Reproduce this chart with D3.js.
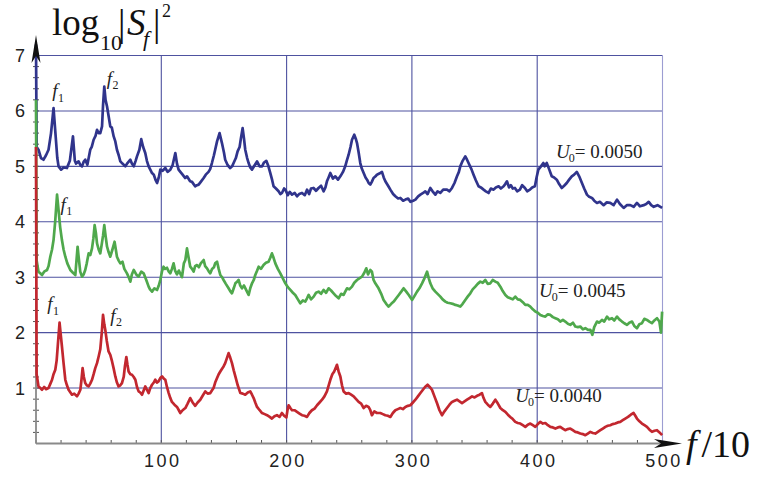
<!DOCTYPE html>
<html>
<head>
<meta charset="utf-8">
<script src="https://cdn.jsdelivr.net/npm/d3@7"></script>
<style>
  body { margin: 0; background: #fff; }
  svg { display: block; }
</style>
</head>
<body>
<div id="main"></div>
<script>
// log10|S_f|^2 against f/10, three runs
var xTicks = [100, 200, 300, 400, 500];
var yTicks = [1, 2, 3, 4, 5, 6, 7];

var blueU = [[0,7.2],[0.5,5.35],[2,5.3],[4,5.15],[6,5.12],[8,5.2],[10,5.3],[12,5.6],[14,6.05],[15.5,5.6],[17,5.15],[18,5.0],[20,4.94],[22,4.98],[24.7,4.97],[27,5.1],[29.5,5.54],[31,5.1],[32,5.05],[34,5.09],[35.5,5.02],[36.7,5.0],[38,5.08],[39.3,5.12],[41,5.03],[43.3,5.3],[44.5,5.35],[46,5.48],[47.5,5.55],[48.7,5.66],[50,5.6],[51.3,5.6],[52.7,5.72],[53.5,6.1],[54.5,6.44],[55.5,6.2],[56.7,6.08],[58,5.9],[59.3,5.72],[60.5,5.7],[62,5.54],[63.3,5.45],[64.6,5.3],[66,5.2],[67.3,5.09],[69,5.05],[71.3,5.0],[73,5.06],[75.3,5.12],[76.5,5.05],[78,5.0],[79.5,5.1],[80.6,5.18],[82.5,5.3],[84,5.49],[85.5,5.35],[87.2,5.24],[88.5,5.1],[89.9,5.0],[91,4.95],[92.6,4.88],[94,4.85],[95.5,4.75],[96.6,4.7],[98,4.8],[99.2,4.94],[101,4.92],[103.2,4.97],[105,4.9],[107.2,4.94],[109,5.02],[111.2,5.24],[112.5,5.05],[113.8,4.94],[115.2,4.9],[117,4.85],[119,4.79],[120.5,4.82],[123,4.73],[124.5,4.72],[127,4.64],[128.5,4.66],[129.8,4.67],[131.5,4.72],[133.8,4.79],[135.5,4.85],[137.7,4.9],[139,4.95],[140.4,5.06],[142,5.2],[143,5.3],[144.5,5.45],[146.5,5.6],[148.4,5.42],[150,5.25],[151,5.12],[153,5.02],[155,4.97],[156.5,5.0],[157.7,5.06],[159.5,5.15],[160.9,5.27],[162.5,5.35],[163.5,5.5],[164.9,5.69],[166,5.5],[167,5.3],[168.5,5.15],[169.7,5.06],[171,4.98],[172.4,4.94],[174.5,5.02],[176.4,5.09],[178.5,5.0],[180.4,5.0],[182,5.07],[183.8,5.1],[185.5,5.0],[187,4.88],[188.5,4.75],[189.6,4.64],[191.5,4.6],[193.6,4.55],[195,4.5],[196.3,4.52],[198,4.6],[199,4.58],[201,4.48],[202.5,4.54],[204.3,4.49],[206.5,4.52],[208.3,4.46],[210,4.5],[212.3,4.52],[214.5,4.48],[216.3,4.58],[218,4.5],[219.5,4.6],[221.5,4.61],[223.5,4.56],[225.5,4.61],[227.5,4.65],[229.5,4.55],[231,4.62],[232.2,4.73],[233.5,4.8],[234.9,4.88],[237,4.78],[238.9,4.82],[241,4.76],[242.9,4.82],[245,4.9],[246.8,5.0],[248,5.1],[249.5,5.21],[251,5.35],[252.2,5.48],[254,5.57],[255.2,5.5],[256.2,5.42],[257.5,5.25],[258.8,5.06],[260,4.96],[261.5,4.88],[263,4.8],[264.2,4.76],[265.5,4.7],[266.8,4.67],[268,4.72],[269.4,4.79],[271,4.82],[272.1,4.85],[274,4.87],[276.1,4.9],[277.5,4.8],[278.8,4.73],[281,4.65],[282.8,4.58],[285,4.5],[286.8,4.46],[289,4.42],[290.8,4.43],[293,4.38],[294.8,4.4],[297,4.42],[298.8,4.36],[301,4.38],[302.8,4.4],[305,4.46],[306.8,4.49],[309,4.52],[310.7,4.55],[312.5,4.5],[314.7,4.61],[316.5,4.55],[318.7,4.49],[320.5,4.55],[322.7,4.52],[325,4.58],[328,4.58],[330,4.55],[332,4.61],[334,4.7],[336,4.82],[337.5,4.9],[338.6,5.0],[340.5,5.1],[342.6,5.18],[344,5.12],[345.2,5.06],[347.5,4.95],[349.2,4.85],[351,4.75],[353.2,4.64],[355,4.62],[357.2,4.58],[359,4.55],[361.2,4.52],[363,4.6],[365.2,4.58],[367,4.62],[369.2,4.64],[371,4.6],[373.2,4.64],[374.5,4.68],[375.9,4.73],[377.5,4.62],[379,4.66],[380.5,4.6],[382.2,4.61],[384,4.55],[386.2,4.58],[388,4.66],[390.2,4.61],[392,4.55],[394.2,4.58],[396,4.62],[398.2,4.64],[399.5,4.8],[400.9,4.94],[403,5.0],[404.9,5.06],[406,5.0],[407.6,5.06],[409.5,4.95],[411.6,4.82],[413.5,4.8],[415.6,4.76],[417.5,4.68],[419.6,4.61],[421.5,4.65],[423.6,4.7],[425.5,4.76],[427.6,4.82],[429.5,4.85],[431.6,4.9],[433.5,4.82],[435.7,4.7],[437.5,4.6],[439.7,4.49],[441.5,4.45],[443.7,4.43],[445.5,4.38],[447.7,4.34],[450,4.36],[453,4.3],[455.5,4.35],[458.3,4.34],[461,4.3],[463.7,4.4],[466,4.32],[469,4.25],[471.5,4.3],[474.3,4.3],[477,4.27],[479.6,4.34],[482,4.28],[485,4.3],[487,4.32],[489,4.36],[491,4.3],[493,4.27],[496,4.3],[499.7,4.25]];

var greenU = [[0,6.2],[0.5,3.3],[2,3.1],[3.4,3.07],[4.8,3.04],[6.5,3.1],[8.8,3.13],[10,3.2],[11.4,3.37],[12.8,3.5],[14,3.67],[15.3,4.0],[16.8,4.49],[18,4.21],[19.3,3.9],[20.7,3.67],[22,3.5],[23.4,3.37],[25,3.25],[27.4,3.13],[29.5,3.08],[31.4,3.04],[32.3,3.3],[33.2,3.55],[34,3.37],[35.3,3.1],[36.7,3.01],[38,3.05],[39.3,3.13],[40.5,3.25],[42,3.43],[43.3,3.4],[44.7,3.52],[45.8,3.7],[46.8,3.94],[47.8,3.8],[48.7,3.61],[50,3.5],[51.3,3.43],[52.5,3.6],[53.5,3.75],[54.5,3.94],[55.5,3.75],[56.7,3.55],[58,3.45],[59.3,3.37],[61,3.5],[62.7,3.64],[63.7,3.5],[64.6,3.37],[66,3.3],[67.3,3.25],[69,3.28],[70.5,3.15],[72.6,3.07],[74,3.0],[75.3,2.92],[76.5,3.05],[78,3.13],[80,3.05],[81.9,3.01],[84,3.1],[85.9,3.07],[88,2.95],[89.9,2.83],[91,2.78],[92.6,2.74],[94.5,2.8],[96.6,2.77],[98,2.85],[99.2,2.95],[100.5,3.1],[101.8,3.19],[103,3.15],[104.5,3.17],[106,3.1],[107.2,3.07],[108.5,3.15],[109.8,3.25],[111,3.12],[112.5,3.05],[114,3.12],[116.5,3.0],[118,3.25],[119.2,3.31],[120.5,3.52],[121.8,3.35],[123.1,3.19],[124.5,3.15],[125.8,3.1],[127,3.2],[128.5,3.22],[130,3.18],[131.5,3.25],[133.8,3.31],[135,3.2],[136.5,3.16],[138,3.1],[139.1,3.07],[140.5,3.15],[142,3.18],[143,3.25],[144.5,3.28],[145.8,3.15],[147.1,3.04],[148.5,3.0],[149.7,2.95],[151.5,2.88],[153.7,2.8],[155,2.75],[156.4,2.71],[157.8,2.8],[159.1,2.89],[160.5,2.92],[161.7,2.95],[163,2.85],[164.4,2.8],[166,2.85],[167.5,2.78],[169.7,2.68],[171,2.8],[172.4,2.89],[173.8,2.95],[175,3.04],[176.5,3.12],[177.7,3.19],[179.5,3.15],[181.6,3.22],[183.5,3.26],[185.6,3.28],[187,3.35],[188.3,3.43],[189.6,3.35],[191,3.25],[193,3.15],[195,3.07],[197,2.98],[199,2.89],[201,2.82],[203,2.77],[205,2.72],[206.9,2.68],[209,2.6],[210.9,2.53],[213,2.58],[214.9,2.56],[216.3,2.62],[217.6,2.68],[219.5,2.6],[221.6,2.65],[223.5,2.72],[225.5,2.74],[227.5,2.7],[229.5,2.77],[231.5,2.72],[233.5,2.8],[235.5,2.76],[237.5,2.71],[239.5,2.66],[241.5,2.62],[243.5,2.7],[245.5,2.68],[246.8,2.74],[248.2,2.8],[250,2.78],[252.2,2.83],[254,2.9],[256.2,2.95],[258,2.98],[260.2,3.01],[262,3.08],[263.6,3.16],[265,3.05],[266.8,3.13],[268.1,3.1],[269.4,2.95],[270.8,2.89],[273.4,2.8],[275.5,2.7],[277.4,2.59],[279.5,2.52],[281.4,2.47],[283.5,2.52],[285.5,2.56],[287.5,2.62],[289.5,2.68],[291.5,2.74],[293.4,2.8],[295.5,2.74],[297.5,2.68],[300.2,2.59],[302,2.66],[304.1,2.74],[306,2.8],[308.1,2.89],[310,2.98],[312.1,3.1],[313.5,2.98],[314.7,2.89],[316.5,2.8],[318.7,2.74],[320.5,2.7],[322.7,2.65],[324.5,2.6],[326.7,2.56],[328.5,2.54],[330.7,2.53],[332.5,2.52],[334.7,2.5],[336.5,2.49],[338.6,2.47],[340.5,2.52],[342.6,2.59],[344.5,2.65],[346.6,2.71],[348.5,2.78],[350.6,2.83],[352.5,2.88],[354.6,2.92],[356.5,2.9],[358.6,2.95],[360.5,2.88],[362.6,2.89],[364.5,2.95],[366.6,2.92],[368.5,2.9],[370.6,2.83],[372.5,2.75],[374.6,2.68],[376.5,2.64],[378.5,2.62],[380.5,2.6],[382.5,2.65],[384.5,2.6],[386.5,2.59],[388.5,2.55],[390.5,2.5],[392.5,2.5],[394.5,2.47],[396.5,2.42],[398.5,2.38],[400.5,2.36],[402.5,2.32],[404.5,2.3],[406.5,2.29],[408.5,2.33],[410.5,2.32],[412.5,2.28],[414.5,2.26],[416.5,2.24],[418.4,2.2],[420.5,2.23],[422.4,2.2],[424.5,2.16],[426.4,2.14],[428.5,2.18],[430.4,2.11],[432.5,2.1],[434.4,2.11],[436.5,2.06],[438.4,2.08],[440.5,2.05],[442.4,2.05],[444,1.96],[445.5,2.1],[447.7,2.2],[449.5,2.18],[451.7,2.23],[453.5,2.2],[455.7,2.29],[457.5,2.24],[459.7,2.26],[461.5,2.22],[463.7,2.29],[465.5,2.24],[467.7,2.2],[469.5,2.17],[471.7,2.14],[473.5,2.18],[475.7,2.2],[477.5,2.12],[479.6,2.08],[481.5,2.15],[483.6,2.17],[485.5,2.25],[487.6,2.23],[489.5,2.2],[491.6,2.17],[493.5,2.22],[495.6,2.26],[497.5,2.2],[498.8,2.0],[499.7,2.38]];

var redU = [[0,5.35],[0.5,1.25],[2,1.03],[3.5,1.0],[4.8,0.97],[6.5,1.02],[8,0.98],[10,1.0],[11.5,1.08],[12.8,1.15],[14,1.25],[15.4,1.33],[16.5,1.5],[17.5,1.8],[18.8,2.18],[19.8,1.95],[20.7,1.75],[22,1.45],[23.4,1.15],[24.7,1.05],[26,0.97],[27.5,0.92],[28.7,0.88],[30.5,0.9],[32.7,0.85],[34,0.9],[35.4,0.97],[36.3,1.15],[37.2,1.36],[38.2,1.2],[39.3,1.09],[40.5,1.05],[42,1.03],[43.3,1.08],[44.7,1.15],[46,1.25],[47.3,1.36],[48.7,1.45],[50,1.57],[51.3,1.7],[52.5,2.0],[53.5,2.32],[54.5,2.15],[55.3,2.05],[56.5,1.85],[57.9,1.66],[59.3,1.6],[60.7,1.48],[62,1.35],[63.3,1.21],[64.6,1.1],[65.9,1.03],[67.3,1.05],[68.6,1.09],[70,1.2],[71,1.4],[72.1,1.56],[73,1.42],[73.9,1.3],[75.3,1.25],[76.6,1.24],[78,1.2],[79.3,1.15],[80.6,1.02],[81.9,0.94],[83.2,0.92],[84.6,0.88],[86,0.96],[87.2,1.03],[88.5,0.97],[89.9,0.91],[91.2,1.0],[92.6,1.06],[94,1.1],[95.2,1.15],[96.5,1.1],[97.8,1.12],[99.2,1.18],[100.6,1.21],[102,1.17],[103.2,1.15],[104.5,1.02],[105.9,0.91],[107.2,0.82],[108.5,0.75],[110.5,0.7],[112.5,0.66],[114,0.6],[115.2,0.55],[117,0.6],[119.2,0.64],[121,0.72],[123.1,0.82],[125,0.74],[127.1,0.68],[129,0.74],[131.1,0.79],[133,0.86],[135.1,0.94],[137,0.9],[139.1,0.91],[140.5,0.96],[141.7,1.0],[143,1.1],[144.5,1.18],[145.8,1.25],[147.1,1.3],[148.5,1.35],[149.7,1.39],[151,1.45],[152.5,1.55],[153.7,1.63],[155,1.55],[156.4,1.45],[157.8,1.32],[159.1,1.21],[161,1.05],[163.1,0.91],[165,0.9],[167,0.88],[169,0.92],[171,0.94],[172.4,0.88],[173.7,0.82],[175,0.74],[176.4,0.66],[178.5,0.6],[180.4,0.55],[182.5,0.53],[184.4,0.51],[186.5,0.48],[188.3,0.45],[190.3,0.49],[192.3,0.51],[194.3,0.48],[196.3,0.55],[198,0.5],[199.8,0.47],[200.7,0.6],[201.6,0.69],[203,0.64],[204.3,0.6],[206.3,0.6],[208.3,0.57],[210.3,0.54],[212.3,0.51],[214.3,0.5],[216.3,0.48],[218.2,0.55],[220.2,0.6],[222.3,0.63],[224.3,0.69],[226.3,0.74],[228.3,0.79],[230.2,0.85],[232.2,0.94],[233.6,1.05],[234.9,1.15],[236.5,1.25],[238,1.3],[240.2,1.42],[241.5,1.3],[242.9,1.21],[244.2,1.05],[245.5,0.94],[247.5,0.9],[249.5,0.91],[251.5,0.88],[253.5,0.85],[255.5,0.8],[257.5,0.75],[259.5,0.72],[261.5,0.64],[263.5,0.68],[265.4,0.66],[266.8,0.6],[268.1,0.51],[270,0.58],[272.1,0.55],[274.8,0.55],[276.8,0.53],[278.8,0.51],[280.8,0.5],[282.8,0.48],[284.8,0.55],[286.8,0.6],[288.8,0.62],[290.8,0.64],[292.8,0.62],[294.8,0.66],[296.8,0.68],[298.8,0.69],[300.8,0.74],[302.8,0.79],[304.8,0.85],[306.8,0.91],[308.8,0.97],[310.5,1.02],[312.5,1.06],[314.2,1.02],[316,0.97],[318,0.85],[320,0.73],[322,0.6],[324,0.51],[326,0.58],[328,0.64],[330,0.7],[332,0.75],[334,0.77],[336,0.79],[338,0.76],[340,0.73],[342,0.76],[344,0.79],[346,0.82],[348,0.85],[350,0.83],[352,0.86],[354,0.88],[355.9,0.91],[357.2,0.82],[358.6,0.75],[360.6,0.7],[362.6,0.66],[364.6,0.72],[366.6,0.79],[368.6,0.72],[370.6,0.64],[372.6,0.6],[374.6,0.57],[376.6,0.52],[378.5,0.48],[380.5,0.44],[382.5,0.39],[384.5,0.37],[386.5,0.36],[388.5,0.33],[390.5,0.3],[392.5,0.34],[394.5,0.36],[396.5,0.33],[398.5,0.3],[400.5,0.35],[402.5,0.39],[404.5,0.36],[406.5,0.37],[408.5,0.33],[410.5,0.3],[412.5,0.29],[414.5,0.27],[416.5,0.29],[418.4,0.3],[420.4,0.27],[422.4,0.24],[424.4,0.26],[426.4,0.27],[428.4,0.24],[430.4,0.21],[432.4,0.2],[434.4,0.18],[436.4,0.17],[438.4,0.15],[440.4,0.18],[442.4,0.21],[444.4,0.19],[446.4,0.18],[448.4,0.21],[450.4,0.24],[452.4,0.27],[454.4,0.3],[456.3,0.32],[458.3,0.33],[460.3,0.35],[462.3,0.36],[464.3,0.38],[466.3,0.39],[468.3,0.42],[470.3,0.45],[472.5,0.48],[474.7,0.52],[476.9,0.55],[478.3,0.5],[479.6,0.45],[481.6,0.4],[483.6,0.36],[485.6,0.33],[487.6,0.3],[489.6,0.25],[491.6,0.21],[493.6,0.23],[495.6,0.24],[497.6,0.2],[499.7,0.15]];

// peak labels: [f, value, name, sub, run]
var peakLabels = [
    [13, 6.25, "f", "1", "blue"],
    [56.5, 6.47, "f", "2", "blue"],
    [19.5, 4.2, "f", "1", "green"],
    [9, 2.4, "f", "1", "red"],
    [59.3, 2.2, "f", "2", "red"]
];
// run labels: [f, value, U0 text]
var runLabels = [
    [415, 5.15, "0.0050"],
    [401.5, 2.65, "0.0045"],
    [382.5, 0.75, "0.0040"]
];

var ctx = { width: 759, height: 478 };
var colors = { blue: "#30348c", green: "#4fa84c", red: "#c2272f" };
var gridColor = "#4e52a0";

var svg = d3.select("#main").append("svg")
    .attr("width", ctx.width)
    .attr("height", ctx.height);

var x = d3.scaleLinear().domain([0, 500]).range([36, 662.5]);
var y = d3.scaleLinear().domain([0, 7]).range([443.5, 55.5]);

// grid
svg.append("g").selectAll("line.h")
    .data(yTicks).enter().append("line")
    .attr("x1", x(0)).attr("x2", x(500))
    .attr("y1", function(d) { return y(d); })
    .attr("y2", function(d) { return y(d); })
    .attr("stroke", gridColor).attr("stroke-width", 1.1);

svg.append("g").selectAll("line.v")
    .data(xTicks).enter().append("line")
    .attr("x1", function(d) { return x(d); })
    .attr("x2", function(d) { return x(d); })
    .attr("y1", y(0)).attr("y2", y(7))
    .attr("stroke", function(d) { return d == 500 ? "#9c9dd2" : gridColor; })
    .attr("stroke-width", 1.1);

// minor ticks
svg.append("g").selectAll("line")
    .data(d3.range(0, 500, 20)).enter().append("line")
    .attr("x1", function(d) { return x(d); })
    .attr("x2", function(d) { return x(d); })
    .attr("y1", y(0)).attr("y2", y(0) - 3.5)
    .attr("stroke", "#555").attr("stroke-width", 1);

svg.append("g").selectAll("line")
    .data(d3.range(0.2, 7, 0.2)).enter().append("line")
    .attr("x1", x(0) - 3).attr("x2", x(0) + 3)
    .attr("y1", function(d) { return y(d); })
    .attr("y2", function(d) { return y(d); })
    .attr("stroke", "#555").attr("stroke-width", 1);

// axes lines
svg.append("line")
    .attr("x1", x(0)).attr("x2", 668)
    .attr("y1", y(0)).attr("y2", y(0))
    .attr("stroke", "#8a8a8a").attr("stroke-width", 1.8);
svg.append("line")
    .attr("x1", x(0)).attr("x2", x(0))
    .attr("y1", y(0)).attr("y2", 45)
    .attr("stroke", "#8a8a8a").attr("stroke-width", 1.8);

// tick labels
svg.append("g").selectAll("text")
    .data(yTicks).enter().append("text")
    .attr("x", 25)
    .attr("y", function(d) { return y(d) + 6.5; })
    .attr("text-anchor", "end")
    .style("font-family", "Liberation Sans, Arial, sans-serif")
    .style("font-size", "18px")
    .attr("fill", "#222")
    .text(function(d) { return d; });

svg.append("g").selectAll("text")
    .data(xTicks).enter().append("text")
    .attr("x", function(d) { return x(d) + 1.5; })
    .attr("y", 467)
    .attr("text-anchor", "middle")
    .style("font-family", "Liberation Sans, Arial, sans-serif")
    .style("font-size", "18px")
    .style("letter-spacing", "2.5px")
    .attr("fill", "#222")
    .text(function(d) { return d; });

// curves
var line = d3.line()
    .x(function(d) { return x(d[0]); })
    .y(function(d) { return y(d[1]); });

[[blueU, "blue"], [greenU, "green"], [redU, "red"]].forEach(function(s) {
    svg.append("path")
        .datum(s[0])
        .attr("d", line)
        .attr("fill", "none")
        .attr("stroke", colors[s[1]])
        .attr("stroke-width", 2.7)
        .attr("stroke-linejoin", "round");
});

// arrows
svg.append("path")
    .attr("d", "M" + x(0) + ",35 L" + (x(0) - 4.5) + ",63 L" + x(0) + ",56 L" + (x(0) + 4.5) + ",63 Z")
    .attr("fill", "#111");
svg.append("path")
    .attr("d", "M682," + y(0) + " L654," + (y(0) - 4.5) + " L661," + y(0) + " L654," + (y(0) + 4.5) + " Z")
    .attr("fill", "#111");

// peak labels
var serif = "Liberation Serif, Times New Roman, serif";
peakLabels.forEach(function(p) {
    var t = svg.append("text")
        .attr("x", x(p[0]))
        .attr("y", y(p[1]))
        .style("font-family", serif)
        .style("font-size", "19px")
        .attr("fill", "#222");
    t.append("tspan").style("font-style", "italic").text(p[2]);
    t.append("tspan").attr("dy", 4.5).attr("dx", 0.5).style("font-size", "12px").text(p[3]);
});

runLabels.forEach(function(r) {
    var t = svg.append("text")
        .attr("x", x(r[0]))
        .attr("y", y(r[1]))
        .style("font-family", serif)
        .style("font-size", "19px")
        .attr("fill", "#222");
    t.append("tspan").style("font-style", "italic").text("U");
    t.append("tspan").attr("dy", 4).attr("dx", -1).style("font-size", "12px").text("0");
    t.append("tspan").attr("dy", -4).text("= " + r[2]);
});

// axis titles
var title = svg.append("g").attr("fill", "#111").style("font-family", serif);
title.append("text").attr("x", 52).attr("y", 35).style("font-size", "37px").text("log");
title.append("text").attr("x", 100).attr("y", 50).style("font-size", "22px").text("10");
title.append("text").attr("x", 118).attr("y", 36).style("font-size", "37px").text("|");
title.append("text").attr("x", 127).attr("y", 35).style("font-size", "37px").style("font-style", "italic").text("S");
title.append("text").attr("x", 143).attr("y", 46).style("font-size", "22px").style("font-style", "italic").text("f");
title.append("text").attr("x", 153).attr("y", 36).style("font-size", "37px").text("|");
title.append("text").attr("x", 162).attr("y", 17).style("font-size", "18px").text("2");

var xt = svg.append("text").attr("x", 686).attr("y", 457)
    .style("font-family", serif).style("font-size", "38px").attr("fill", "#111");
xt.append("tspan").style("font-style", "italic").text("f");
xt.append("tspan").attr("dx", 5).text("/10");
</script>
</body>
</html>
